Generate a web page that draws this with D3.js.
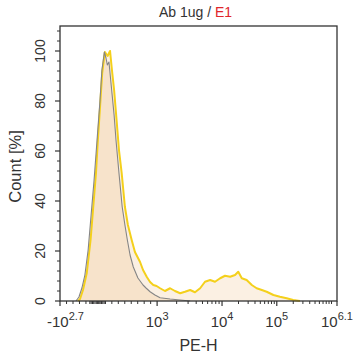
<!DOCTYPE html>
<html><head><meta charset="utf-8">
<script src="https://cdn.jsdelivr.net/npm/d3@7"></script>
<style>
body{margin:0;background:#fff}
svg{display:block}
text{font-family:"Liberation Sans",Arial,sans-serif;fill:#333}
</style>
</head><body>
<script>
// ---- data ----
const titleMain = "Ab 1ug / ";
const titleSample = "E1";
const xLabel = "PE-H";
const yLabel = "Count [%]";
const yTicks = [0, 20, 40, 60, 80, 100];
const xTickValues = [-Math.pow(10, 2.7), 1e3, 1e4, 1e5, Math.pow(10, 6.1)];
const xTickBase = ["-10", "10", "10", "10", "10"];
const xTickExp = ["2.7", "3", "4", "5", "6.1"];
// histogram: display channel (0..1024) and percent of max
const yellowX = [67,74,85,99,113,122,133,140,148,156,163,166,176,185,192,200,210,218,228,240,251,265,277,296,307,321,333,345,357,370,388,407,425,444,462,481,499,518,536,555,573,592,610,629,647,659,672,690,709,727,746,764,789,813,838,862,887];
const yellowY = [0,0.8,4.4,11.2,24.4,36.4,51.2,64.4,77.6,91.2,97.2,99.6,98,100,92.4,84.4,71.2,60.4,51.2,37.6,30.4,24.4,19.6,15.6,12.4,9.6,7.6,6.4,6,5.1,4,5.1,4,3.1,3.7,4.4,3.5,5.1,7.7,8.4,7.7,9.1,10.1,9.7,10.4,11.7,9.1,8.4,6.4,5.1,4.4,3.7,2.4,1.7,1.1,0.4,0];
const grayX = [59,70,81,92,104,115,126,137,148,155,164,170,175,181,191,200,207,218,230,240,249,259,271,288,307,318,333,351,370,407,444,481];
const grayY = [0,1.6,5.2,10.4,20.4,34.4,48.4,64.4,80.4,92.4,99.6,97.2,94.4,95.6,84.4,74.4,64.4,51.2,37.6,30.4,24.4,18.4,13.6,9.2,6.4,5.2,3.7,2.4,1.3,0.8,0.4,0];

// ---- layout ----
const W = 356, H = 360;
const m = {left: 60, top: 26, right: 19, bottom: 59};
const pw = W - m.left - m.right, ph = H - m.top - m.bottom;

const svg = d3.select("body").append("svg").attr("width", W).attr("height", H);
const g = svg.append("g").attr("transform", `translate(${m.left},${m.top})`);

// display transform (FlowJo-like biexponential axis): linear low end, log high end
const lowPart = d3.scaleLinear().domain([-Math.pow(10, 2.7), 1e3]).range([0, 359]);
const highPart = d3.scaleLog().domain([1e3, 1e4, Math.pow(10, 6.1)]).range([359, 599, 1024]);
const channelOf = v => v <= 1e3 ? lowPart(v) : highPart(v);

const x = d3.scaleLinear().domain([0, 1024]).range([0, pw]);
const y = d3.scaleLinear().domain([0, 110]).range([ph, 0]);

// ---- histograms ----
const area = d3.area().x(d => x(d[0])).y0(y(0)).y1(d => y(d[1]));
const line = d3.line().x(d => x(d[0])).y(d => y(d[1]));
const yellow = yellowX.map((v, i) => [v, yellowY[i]]);
const gray = grayX.map((v, i) => [v, grayY[i]]);

const fillCol = "rgba(230,165,90,0.17)";
g.append("path").datum(gray).attr("d", area).attr("fill", fillCol);
g.append("path").datum(yellow).attr("d", area).attr("fill", fillCol);
g.append("path").datum(yellow).attr("d", line).attr("fill", "none")
  .attr("stroke", "#f4d01c").attr("stroke-width", 2).attr("stroke-linejoin", "round");
g.append("path").datum(gray).attr("d", line).attr("fill", "none")
  .attr("stroke", "#858585").attr("stroke-width", 1.1).attr("stroke-linejoin", "round");

// ---- frame ----
g.append("rect").attr("x", 0).attr("y", 0).attr("width", pw).attr("height", ph)
  .attr("fill", "none").attr("stroke", "#333").attr("stroke-width", 1.3);

// ---- y axis ----
const yMinor = d3.range(0, 111, 4).filter(v => v % 20 !== 0);
g.selectAll(".ymin").data(yMinor).join("line")
  .attr("x1", -3).attr("x2", 0).attr("y1", d => y(d)).attr("y2", d => y(d))
  .attr("stroke", "#333").attr("stroke-width", 1);
g.selectAll(".ymaj").data(yTicks).join("line")
  .attr("x1", -5).attr("x2", 0).attr("y1", d => y(d)).attr("y2", d => y(d))
  .attr("stroke", "#333").attr("stroke-width", 1.2);
g.selectAll(".ylab").data(yTicks).join("text")
  .attr("transform", d => `translate(-15,${y(d)}) rotate(-90)`)
  .attr("text-anchor", "middle").attr("font-size", 14).text(d => d);
svg.append("text").attr("transform", `translate(21,${m.top + ph / 2 + 3}) rotate(-90)`)
  .attr("text-anchor", "middle").attr("font-size", 16.5).text(yLabel);

// ---- x axis ----
const xMinorVals = [].concat(
  d3.range(-400, 1000, 100),
  d3.range(-40, 220, 20),
  ...[3, 4, 5].map(d => d3.range(2, 10).map(k => k * Math.pow(10, d))),
  [1e6]
);
g.selectAll(".xmin").data(xMinorVals).join("line")
  .attr("x1", d => x(channelOf(d))).attr("x2", d => x(channelOf(d)))
  .attr("y1", ph).attr("y2", ph + 3).attr("stroke", "#333").attr("stroke-width", 1);
g.selectAll(".xmaj").data(xTickValues).join("line")
  .attr("x1", d => x(channelOf(d))).attr("x2", d => x(channelOf(d)))
  .attr("y1", ph).attr("y2", ph + 5).attr("stroke", "#333").attr("stroke-width", 1.2);
const xl = g.selectAll(".xlab").data(xTickValues).join("text")
  .attr("x", d => x(channelOf(d))).attr("y", ph + 26)
  .attr("text-anchor", (d, i) => i === 0 ? "start" : "middle")
  .attr("dx", (d, i) => i === 0 ? -13 : 0)
  .attr("font-size", 15);
xl.append("tspan").text((d, i) => xTickBase[i]);
xl.append("tspan").attr("dy", -7).attr("font-size", 11).text((d, i) => xTickExp[i]);

svg.append("text").attr("x", m.left + pw / 2).attr("y", 351)
  .attr("text-anchor", "middle").attr("font-size", 16).text(xLabel);

// ---- title ----
const t = svg.append("text").attr("x", m.left + pw / 2 - 3).attr("y", 17)
  .attr("text-anchor", "middle").attr("font-size", 14);
t.append("tspan").text(titleMain);
t.append("tspan").style("fill", "#e0262b").text(titleSample);
</script>
</body></html>
